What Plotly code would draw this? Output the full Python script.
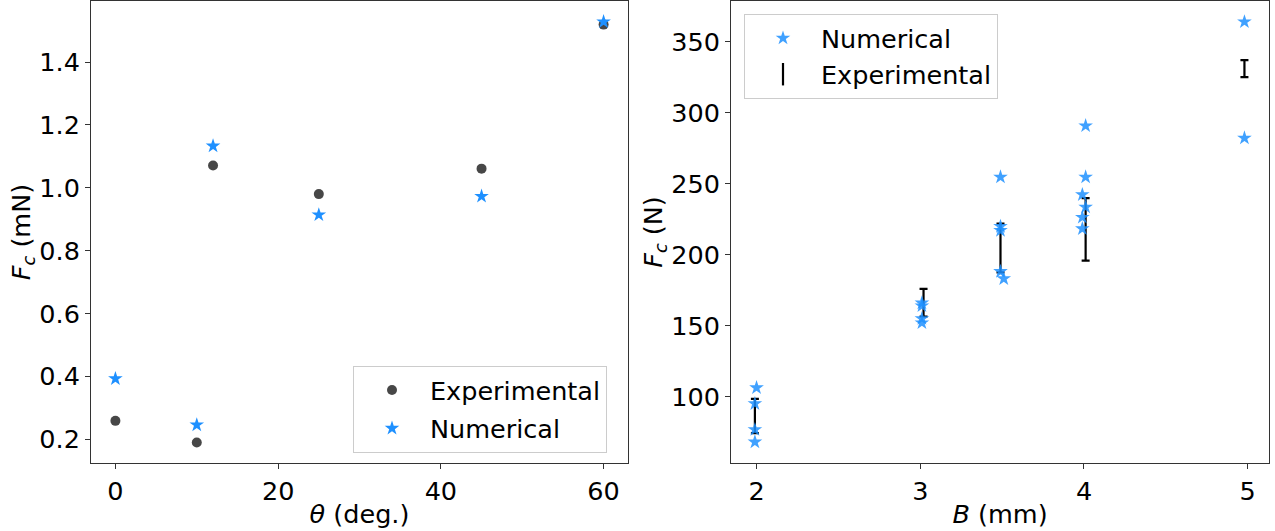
import plotly.graph_objects as go
from plotly.subplots import make_subplots

# ---- Left panel data: F_c (mN) vs theta (deg.)
theta = [0, 10, 12, 25, 45, 60]
fc_exp_theta = [0.259, 0.190, 1.071, 0.980, 1.061, 1.519]
fc_num_theta = [0.393, 0.246, 1.133, 0.914, 0.973, 1.528]

# ---- Right panel data: F_c (N) vs B (mm)
b_num = [2.00, 1.99, 1.99, 1.99,
         3.01, 3.01, 3.01, 3.01,
         3.49, 3.49, 3.49, 3.49, 3.51,
         4.01, 4.01, 3.99, 4.01, 3.99, 3.99,
         4.98, 4.98]
fc_num_b = [106.3, 95.1, 76.8, 68.1,
            166.0, 164.0, 155.0, 152.0,
            254.7, 219.9, 217.1, 188.2, 183.1,
            290.8, 254.7, 242.3, 233.6, 226.3, 218.3,
            364.0, 282.2]

b_exp = [1.99, 3.02, 3.49, 4.01, 4.98]
fc_exp_b = [86.4, 166.2, 204.7, 217.8, 331.1]
fc_exp_err = [12.0, 9.7, 17.2, 22.0, 6.0]

FONT = "DejaVu Sans"
FS = 25.5
BLUE = "#1e90ff"
BLUE_A = "rgba(30,144,255,0.85)"
GREY = "rgba(0,0,0,0.72)"

fig = make_subplots(rows=1, cols=2)

# Left panel
fig.add_trace(go.Scatter(
    x=theta, y=fc_exp_theta, mode="markers", name="Experimental",
    marker=dict(symbol="circle", size=10, color=GREY),
    legend="legend", legendgroup="e1"), row=1, col=1)
fig.add_trace(go.Scatter(
    x=theta, y=fc_num_theta, mode="markers", name="Numerical",
    marker=dict(symbol="star", size=11, color=BLUE),
    legend="legend", legendgroup="n1"), row=1, col=1)

# Right panel
fig.add_trace(go.Scatter(
    x=b_exp, y=fc_exp_b, mode="markers", name="Experimental",
    marker=dict(size=0.1, color="rgba(0,0,0,0)"),
    error_y=dict(type="data", array=fc_exp_err, visible=True,
                 color="black", thickness=2.2, width=4),
    showlegend=False), row=1, col=2)
fig.add_trace(go.Scatter(
    x=b_num, y=fc_num_b, mode="markers", name="Numerical",
    marker=dict(symbol="star", size=11, color=BLUE_A),
    legend="legend2", legendgroup="n2"), row=1, col=2)
fig.add_trace(go.Scatter(
    x=[None], y=[None], mode="markers", name="Experimental",
    marker=dict(symbol="line-ns-open", size=16, color="black",
                line=dict(color="black", width=2.2)),
    legend="legend2", legendgroup="e2"), row=1, col=2)

axis_common = dict(
    showline=True, linecolor="#333333", linewidth=1, mirror=True,
    ticks="outside", ticklen=5, tickwidth=1, tickcolor="#333333",
    showgrid=False, zeroline=False, automargin=False,
    tickfont=dict(family=FONT, size=FS, color="black"),
)

fig.update_xaxes(**axis_common)
fig.update_yaxes(**axis_common)

fig.update_xaxes(domain=[91/1275, 628/1275], range=[-3, 63],
                 tickvals=[0, 20, 40, 60],
                 title=dict(text="<i>θ</i> (deg.)", standoff=0,
                            font=dict(family=FONT, size=FS, color="black")),
                 row=1, col=1)
fig.update_yaxes(range=[0.125, 1.594], tickvals=[0.2, 0.4, 0.6, 0.8, 1.0, 1.2, 1.4],
                 tickformat=".1f",
                 title=dict(text="<i>F<sub>c</sub></i> (mN)", standoff=0,
                            font=dict(family=FONT, size=FS, color="black")),
                 row=1, col=1)
fig.update_xaxes(domain=[731/1275, 1269/1275], range=[1.844, 5.13],
                 tickvals=[2, 3, 4, 5],
                 title=dict(text="<i>B</i> (mm)", standoff=0,
                            font=dict(family=FONT, size=FS, color="black")),
                 row=1, col=2)
fig.update_yaxes(range=[53.3, 378.7], tickvals=[100, 150, 200, 250, 300, 350],
                 title=dict(text="<i>F<sub>c</sub></i> (N)", standoff=0,
                            font=dict(family=FONT, size=FS, color="black")),
                 row=1, col=2)

legend_common = dict(
    font=dict(family=FONT, size=FS, color="black"),
    bgcolor="rgba(255,255,255,0.8)", bordercolor="#cccccc", borderwidth=1,
    itemwidth=66, traceorder="grouped",
    xanchor="left", yanchor="top",
)

fig.update_layout(
    width=1275, height=531,
    margin=dict(l=0, r=0, t=1, b=68),
    paper_bgcolor="white", plot_bgcolor="white",
    font=dict(family=FONT, size=FS, color="black"),
    legend=dict(x=353/1275, y=(463-366)/462, tracegroupgap=2, **legend_common),
    legend2=dict(x=744/1275, y=(463-14)/462, tracegroupgap=0, **legend_common),
)

fig.write_html("out.html",
               config={"displayModeBar": False},
               post_script="document.body.style.margin='0';document.body.style.overflow='hidden';")
